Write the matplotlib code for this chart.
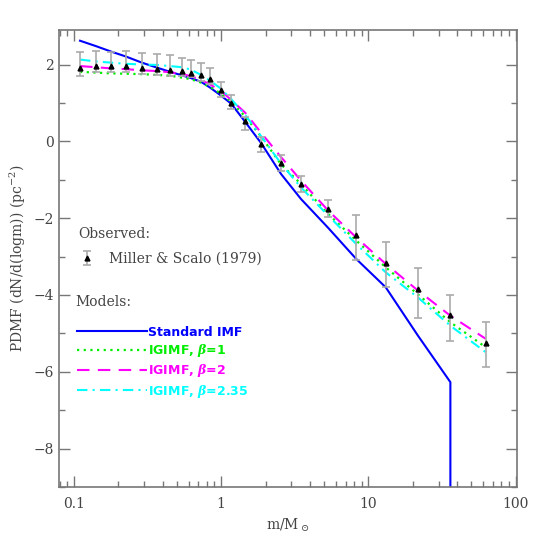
import numpy as np
import matplotlib
matplotlib.use('Agg')
import matplotlib.pyplot as plt
from matplotlib.ticker import MultipleLocator

plt.rcParams['font.family'] = ['DejaVu Serif']
plt.rcParams['mathtext.fontset'] = 'dejavuserif'

# mass bins (Msun)
mass = [0.11, 0.141, 0.178, 0.225, 0.289, 0.366, 0.45, 0.54, 0.62, 0.73, 0.84, 0.99,
        1.17, 1.46, 1.87, 2.55, 3.48, 5.32, 8.25, 13.1, 21.6, 36, 62.5]

# Miller & Scalo (1979) observed PDMF
obs = [1.90, 1.95, 1.96, 1.96, 1.91, 1.88, 1.86, 1.84, 1.79, 1.72, 1.63, 1.35,
       1.00, 0.52, -0.07, -0.57, -1.11, -1.76, -2.45, -3.16, -3.85, -4.53, -5.24]
obs_hi = [2.32, 2.35, 2.32, 2.35, 2.29, 2.28, 2.24, 2.17, 2.12, 2.03, 1.90, 1.54,
          1.21, 0.63, 0.11, -0.36, -0.89, -1.54, -1.93, -2.61, -3.31, -4.00, -4.70]
obs_lo = [1.71, 1.80, 1.80, 1.80, 1.76, 1.73, 1.71, 1.71, 1.67, 1.57, 1.50, 1.15,
          0.85, 0.30, -0.28, -0.76, -1.33, -1.98, -3.10, -3.80, -4.60, -5.19, -5.88]

# models
std_mass = mass[:22] + [36]
std_imf = [2.62, 2.48, 2.34, 2.21, 2.05, 1.92, 1.81, 1.72, 1.65, 1.55, 1.40, 1.20,
           0.98, 0.50, -0.05, -0.85, -1.50, -2.25, -3.06, -3.80, -5.05, -6.27, -20]
igimf_b1 = [1.81, 1.79, 1.77, 1.76, 1.75, 1.73, 1.71, 1.66, 1.62, 1.53, 1.42, 1.25,
            1.03, 0.64, 0.12, -0.60, -1.11, -1.89, -2.58, -3.28, -3.98, -4.71, -5.36]
igimf_b2 = [1.96, 1.93, 1.90, 1.88, 1.85, 1.83, 1.80, 1.75, 1.70, 1.60, 1.48, 1.32,
            1.08, 0.74, 0.22, -0.41, -1.02, -1.80, -2.50, -3.19, -3.88, -4.54, -5.14]
igimf_b235 = [2.13, 2.08, 2.05, 2.02, 2.00, 1.99, 1.96, 1.93, 1.87, 1.73, 1.58, 1.38,
              1.10, 0.68, 0.13, -0.58, -1.20, -1.93, -2.67, -3.41, -4.06, -4.80, -5.49]

gray = '#777777'
txt = '#444444'

fig = plt.figure(figsize=(5.45, 5.45), dpi=100)
ax = fig.add_axes([0.108, 0.1064, 0.8406, 0.8386])

obs = np.array(obs)
yerr = [obs - np.array(obs_lo), np.array(obs_hi) - obs]
eb = ax.errorbar(mass, obs, yerr=yerr, fmt='^', color='black', ms=3.5,
                 ecolor='#aaaaaa', elinewidth=1.2, capsize=3, capthick=1.2,
                 label='Miller & Scalo (1979)', zorder=3)

l1, = ax.plot(std_mass, std_imf, color='#0000ff', lw=1.5, ls='-', label='Standard IMF')
l2, = ax.plot(mass, igimf_b1, color='#00ee00', lw=1.6, ls=(0, (1, 2)),
              label=r'IGIMF, $\boldsymbol{\beta}$=1')
l3, = ax.plot(mass, igimf_b2, color='#ff00ff', lw=1.5, ls=(0, (6, 4)),
              label=r'IGIMF, $\boldsymbol{\beta}$=2')
l4, = ax.plot(mass, igimf_b235, color='#00ffff', lw=1.5, ls=(0, (5, 2.5, 1, 2.5)),
              label=r'IGIMF, $\boldsymbol{\beta}$=2.35')

ax.set_xscale('log')
ax.set_xlim(0.079, 102)
ax.set_ylim(-9, 2.9)
ax.set_xticks([0.1, 1, 10, 100])
ax.set_xticklabels(['0.1', '1', '10', '100'])
ax.yaxis.set_major_locator(MultipleLocator(2))
ax.yaxis.set_minor_locator(MultipleLocator(1))
ax.yaxis.set_major_formatter(plt.FuncFormatter(lambda v, p: '%d' % v if v >= 0 else '\u2212%d' % -v))

ax.tick_params(which='both', direction='in', top=True, right=True, color=gray,
               labelcolor=txt, labelsize=10)
ax.tick_params(which='major', length=8, width=1)
ax.tick_params(which='minor', length=4, width=1)
ax.tick_params(axis='x', pad=7)
for s in ax.spines.values():
    s.set_color(gray)
    s.set_linewidth(1.2)

ax.set_xlabel(r'm/M$_\odot$', color=txt, fontsize=10)
ax.set_ylabel(r'PDMF (dN/d(logm)) (pc$^{-2}$)', color=txt, fontsize=10)

leg1 = ax.legend(handles=[eb], loc='upper left', bbox_to_anchor=(0.015, 0.597),
                 title='Observed:', frameon=False, fontsize=10, handlelength=1.2,
                 handletextpad=1.0, alignment='left', labelcolor=txt,
                 labelspacing=0.3)
leg1.get_title().set_color(txt)
leg1.get_title().set_fontsize(10)
leg1._legend_box.sep = 8
ax.add_artist(leg1)

ax.text(0.035, 0.405, 'Models:', transform=ax.transAxes, color=txt, fontsize=10,
        va='center', ha='left')
leg2 = ax.legend(handles=[l1, l2, l3, l4], loc='upper left', bbox_to_anchor=(0.015, 0.378),
                 frameon=False, handlelength=5.6, handletextpad=0.05,
                 labelspacing=0.27, labelcolor='linecolor',
                 prop={'family': 'DejaVu Sans', 'weight': 'bold', 'size': 9})

fig.savefig('out.png', dpi=100)
